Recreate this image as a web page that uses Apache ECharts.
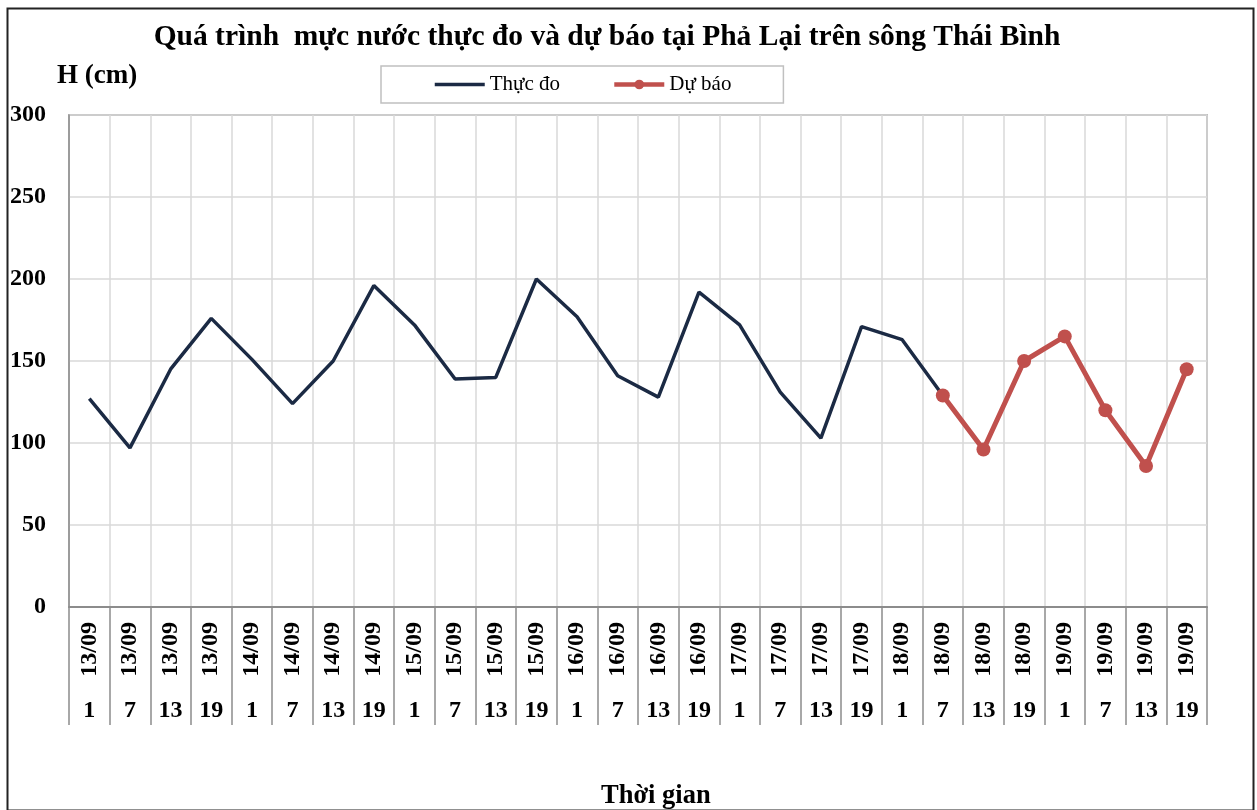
<!DOCTYPE html>
<html>
<head>
<meta charset="utf-8">
<script src="https://cdn.jsdelivr.net/npm/echarts@6/dist/echarts.min.js"></script>
<style>
  html, body { margin: 0; padding: 0; background: #fff; }
  #chart { width: 1257px; height: 810px; }
</style>
</head>
<body>
<div id="chart"></div>
<script>
// ngày / giờ cho từng điểm
const days = [
  '13/09', '13/09', '13/09', '13/09',
  '14/09', '14/09', '14/09', '14/09',
  '15/09', '15/09', '15/09', '15/09',
  '16/09', '16/09', '16/09', '16/09',
  '17/09', '17/09', '17/09', '17/09',
  '18/09', '18/09', '18/09', '18/09',
  '19/09', '19/09', '19/09', '19/09'
]
const hours = [
  '1', '7', '13', '19', '1', '7', '13', '19', '1', '7', '13', '19', '1', '7',
  '13', '19', '1', '7', '13', '19', '1', '7', '13', '19', '1', '7', '13', '19'
]
// mực nước thực đo (cm)
const thucDo = [
  127, 97, 145, 176, 151, 124, 150, 196, 172, 139, 140, 200, 177, 141,
  128, 192, 172, 131, 103, 171, 163, 129, null, null, null, null, null, null
]
// mực nước dự báo (cm)
const duBao = [
  null, null, null, null, null, null, null, null, null, null, null, null, null, null,
  null, null, null, null, null, null, null, 129, 96, 150, 165, 120, 86, 145
]
const yTicks = { min: 0, max: 300, interval: 50 }

const serif = '"Liberation Serif", "Times New Roman", serif'

const chart = echarts.init(document.getElementById('chart'))
const options = {
  backgroundColor: '#fff',
  animation: false,
  title: {
    text: 'Quá trình  mực nước thực đo và dự báo tại Phả Lại trên sông Thái Bình',
    left: 602,
    textAlign: 'center',
    top: 17,
    textStyle: { fontFamily: serif, fontSize: 29.5, fontWeight: 'bold', color: '#000' }
  },
  legend: {
    left: 381,
    top: 66,
    padding: [8, 52],
    itemGap: 52,
    itemWidth: 50,
    itemHeight: 12,
    borderColor: '#c0c0c0',
    borderWidth: 1.5,
    textStyle: { fontFamily: serif, fontSize: 21, color: '#000' },
    data: [
      { name: 'Thực đo', itemStyle: { opacity: 0 }, lineStyle: { width: 3.5 } },
      { name: 'Dự báo', lineStyle: { width: 4.5 } }
    ]
  },
  grid: {
    left: 69,
    right: 50,
    top: 115,
    bottom: 203,
    show: true,
    borderColor: '#8c8c8c',
    borderWidth: 1.5
  },
  xAxis: [
    {
      type: 'category',
      data: days,
      boundaryGap: true,
      axisLine: { lineStyle: { color: '#8c8c8c', width: 2 } },
      axisTick: { show: true, interval: 0, length: 118, lineStyle: { color: '#8c8c8c', width: 1.5 } },
      splitLine: { show: true, interval: 0, lineStyle: { color: '#d9d9d9', width: 1.5 } },
      axisLabel: {
        interval: 0,
        rotate: 90,
        margin: 15,
        color: '#000',
        fontFamily: serif,
        fontSize: 24,
        fontWeight: 'bold'
      }
    },
    {
      type: 'category',
      data: hours,
      position: 'bottom',
      boundaryGap: true,
      axisLine: { show: false },
      axisTick: { show: false },
      splitLine: { show: false },
      axisLabel: {
        interval: 0,
        margin: 92,
        color: '#000',
        fontFamily: serif,
        fontSize: 24,
        fontWeight: 'bold'
      }
    }
  ],
  yAxis: {
    type: 'value',
    min: yTicks.min,
    max: yTicks.max,
    interval: yTicks.interval,
    axisLine: { show: true, lineStyle: { color: '#8c8c8c', width: 1.5 } },
    axisTick: { show: false },
    splitLine: { lineStyle: { color: '#d9d9d9', width: 1.5 } },
    axisLabel: {
      margin: 23,
      color: '#000',
      fontFamily: serif,
      fontSize: 24,
      fontWeight: 'bold'
    }
  },
  graphic: [
    {
      type: 'rect',
      left: 5,
      top: 6,
      shape: { width: 1246, height: 802 },
      style: { fill: 'none', stroke: '#222', lineWidth: 2 },
      silent: true,
      z: -1
    },
    {
      type: 'text',
      left: 57,
      top: 63,
      style: { text: 'H (cm)', fill: '#000', font: 'bold 27px ' + serif }
    },
    {
      type: 'text',
      left: 601,
      top: 783,
      style: { text: 'Thời gian', fill: '#000', font: 'bold 26.5px ' + serif }
    }
  ],
  series: [
    {
      name: 'Thực đo',
      type: 'line',
      data: thucDo,
      symbol: 'none',
      lineStyle: { color: '#1b2a44', width: 3.5 },
      itemStyle: { color: '#1b2a44' },
      z: 2
    },
    {
      name: 'Dự báo',
      type: 'line',
      data: duBao,
      symbol: 'circle',
      symbolSize: 14,
      lineStyle: { color: '#c0504d', width: 5 },
      itemStyle: { color: '#c0504d' },
      z: 3
    }
  ]
}
chart.setOption(options)
window.addEventListener('resize', () => {
  chart.resize()
})
</script>
</body>
</html>
